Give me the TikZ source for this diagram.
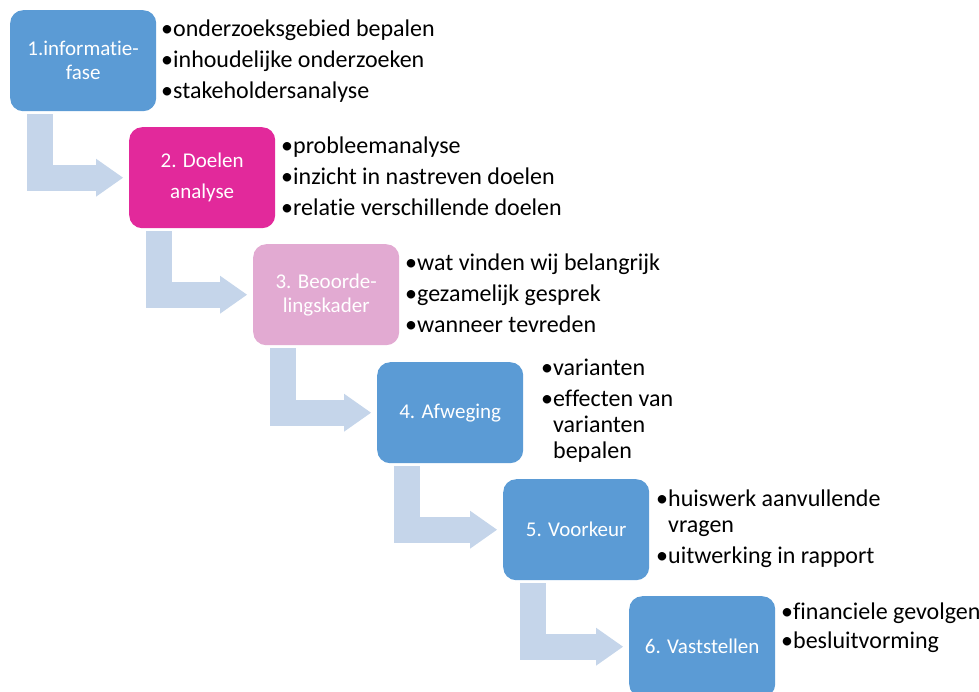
\documentclass[tikz,border=0pt]{standalone}
\usepackage{fontspec}
\setmainfont{Carlito}[Ligatures=NoCommon]
\usetikzlibrary{arrows.meta}

\definecolor{faseblue}{HTML}{5B9BD5}
\definecolor{fasemagenta}{HTML}{E2299B}
\definecolor{fasepink}{HTML}{E2AAD2}
\definecolor{pijlblue}{HTML}{C5D5EA}

\newcommand{\bul}{\textbullet}
\newcommand{\bulind}{\hphantom{\textbullet}}

\tikzset{
    fase/.style={rounded corners=13pt, minimum width=146pt, minimum height=101pt,
        inner sep=0pt, anchor=north west, text=white, align=center,
        font=\fontsize{21}{24}\selectfont},
    punten/.style={anchor=base west, inner sep=0pt, align=left,
        font=\fontsize{24}{26}\selectfont},
    pijl/.style={draw=pijlblue, line width=26pt, line join=miter,
        -{Triangle[length=27pt, width=38pt, line width=0pt]},
        shorten <=3pt, shorten >=6pt}
}

\begin{document}
\begin{tikzpicture}[x=1pt, y=-1pt]
    \clip (0,0) rectangle (979,691);
    \useasboundingbox (0,0) rectangle (979,691);

    % Draw fases
    \node[fase, fill=faseblue] (b1) at (10,10) {1.informatie-\\fase};
    \node[fase, fill=fasemagenta] (b2) at (129,127) {2. Doelen\\[7pt]analyse};
    \node[fase, fill=fasepink] (b3) at (253,244) {3. Beoorde-\\lingskader};
    \node[fase, fill=faseblue] (b4) at (377,362) {4. Afweging};
    \node[fase, fill=faseblue] (b5) at (503,479) {5. Voorkeur};
    \node[fase, fill=faseblue] (b6) at (629,596) {6. Vaststellen};

    % Draw pijlen
    \foreach \van/\naar in {b1/b2, b2/b3, b3/b4, b4/b5, b5/b6}
        \draw[pijl] ([xshift=30pt]\van.south west) |- (\naar.west);

    % Labels (anchored at the baseline of the last line)
    \node[punten] (p1) at (161,98) {\bul onderzoeksgebied bepalen\\[5pt]
        \bul inhoudelijke onderzoeken\\[5pt] \bul stakeholdersanalyse};
    \node[punten] (p2) at (281,215) {\bul probleemanalyse\\[5pt]
        \bul inzicht in nastreven doelen\\[5pt] \bul relatie verschillende doelen};
    \node[punten] (p3) at (405,332) {\bul wat vinden wij belangrijk\\[5pt]
        \bul gezamelijk gesprek\\[5pt] \bul wanneer tevreden};
    \node[punten] (p4) at (541,458) {\bul varianten\\[5pt]
        \bul effecten van\\ \bulind varianten\\ \bulind bepalen};
    \node[punten] (p5) at (656,563) {\bul huiswerk aanvullende\\ \bulind vragen\\[5pt]
        \bul uitwerking in rapport};
    \node[punten] (p6) at (781,648) {\bul financiele gevolgen\\[3pt]
        \bul besluitvorming};

\end{tikzpicture}
\end{document}
